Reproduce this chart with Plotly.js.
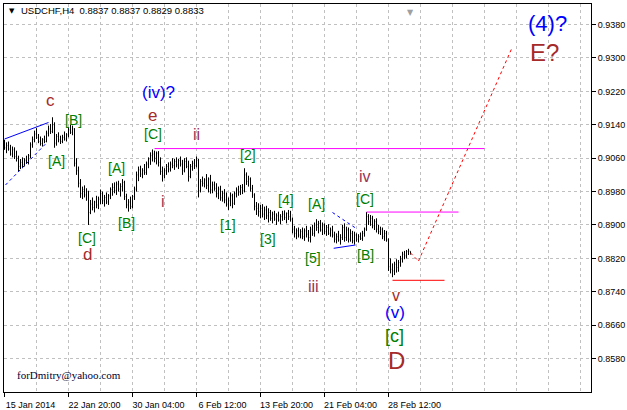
<!DOCTYPE html>
<html>
<head>
<meta charset="utf-8">
<script src="https://cdn.plot.ly/plotly-3.0.1.min.js"></script>
<style>html,body{margin:0;padding:0;background:#fff;}#chart{width:627px;height:410px;}</style>
</head>
<body>
<div id="chart"></div>
<script>
// ---- H4 bars USDCHF ----
const openP = [
.9095,.9085,.9090,.9082,.9070,.9080,.9064,.9060,.9040,.9050,
.9044,.9055,.9050,.9066,.9092,.9105,.9118,.9110,.9100,.9095,
.9104,.9100,.9120,.9130,.9124,.9140,.9096,.9112,.9104,.9100,
.9110,.9106,.9116,.9128,.9122,.9130,.9048,.9030,.9000,.8975,
.8985,.8972,.8980,.8930,.8950,.8942,.8955,.8948,.8962,.8975,
.8958,.8966,.8955,.8970,.8985,.8990,.8982,.8998,.8986,.8992,
.9002,.8968,.8948,.8955,.8944,.8968,.8986,.9020,.9032,.9022,
.9030,.9026,.9046,.9058,.9066,.9070,.9060,.9072,.9050,.9028,
.9018,.9030,.9040,.9034,.9046,.9042,.9052,.9044,.9054,.9046,
.9030,.9052,.9040,.9016,.9040,.9048,.9042,.9055,.8982,.9004,
.9000,.9008,.8995,.9010,.8984,.8996,.8988,.8975,.8986,.8965,
.8976,.8960,.8950,.8958,.8970,.8952,.8975,.8984,.8978,.8990,
.8982,.9020,.9004,.9010,.8988,.8972,.8945,.8940,.8932,.8940,
.8926,.8936,.8922,.8930,.8916,.8926,.8914,.8922,.8912,.8920,
.8926,.8918,.8928,.8920,.8914,.8890,.8880,.8886,.8876,.8884,
.8872,.8886,.8878,.8870,.8890,.8880,.8900,.8894,.8904,.8888,
.8898,.8884,.8894,.8880,.8888,.8876,.8866,.8872,.8864,.8870,
.8894,.8870,.8888,.8866,.8880,.8862,.8876,.8866,.8872,.8868,
.8880,.8890,.8920,.8908,.8916,.8898,.8908,.8890,.8884,.8890,
.8872,.8880,.8864,.8800,.8794,.8790,.8806,.8798,.8810,.8818,
.8830,.8826,.8836,.8837];
const highP = [
.9104,.9098,.9100,.9092,.9088,.9086,.9078,.9066,.9058,.9062,
.9060,.9066,.9070,.9098,.9112,.9126,.9132,.9118,.9112,.9108,
.9114,.9126,.9138,.9142,.9158,.9146,.9118,.9122,.9114,.9116,
.9124,.9120,.9134,.9140,.9138,.9132,.9060,.9040,.9010,.8992,
.8995,.8988,.8982,.8960,.8966,.8958,.8970,.8968,.8985,.8980,
.8972,.8978,.8974,.8990,.9000,.9002,.9004,.9006,.9000,.9010,
.9006,.8975,.8962,.8968,.8972,.8992,.9028,.9040,.9042,.9036,
.9046,.9052,.9062,.9074,.9081,.9078,.9076,.9077,.9062,.9040,
.9036,.9046,.9050,.9052,.9060,.9058,.9062,.9058,.9064,.9056,
.9060,.9062,.9054,.9046,.9054,.9058,.9064,.9058,.9010,.9016,
.9012,.9022,.9014,.9020,.9004,.9004,.9000,.8992,.8994,.8982,
.8986,.8978,.8966,.8978,.8975,.8980,.8990,.8994,.8996,.8998,
.9036,.9026,.9018,.9014,.8996,.8976,.8955,.8952,.8948,.8950,
.8944,.8946,.8940,.8936,.8932,.8934,.8928,.8932,.8926,.8934,
.8935,.8930,.8936,.8934,.8918,.8898,.8892,.8894,.8890,.8894,
.8892,.8898,.8888,.8896,.8900,.8906,.8914,.8910,.8912,.8906,
.8904,.8900,.8902,.8894,.8898,.8884,.8880,.8886,.8878,.8900,
.8904,.8896,.8894,.8890,.8886,.8884,.8880,.8878,.8882,.8886,
.8894,.8931,.8926,.8924,.8922,.8914,.8916,.8900,.8896,.8894,
.8888,.8886,.8868,.8820,.8808,.8812,.8818,.8816,.8826,.8836,
.8838,.8840,.8843,.8837];
const lowP = [
.9080,.9072,.9078,.9066,.9062,.9058,.9052,.9027,.9034,.9036,
.9040,.9046,.9045,.9060,.9085,.9098,.9106,.9096,.9090,.9088,
.9096,.9098,.9112,.9118,.9120,.9085,.9090,.9098,.9094,.9096,
.9102,.9100,.9110,.9118,.9115,.9040,.9020,.8990,.8965,.8962,
.8966,.8958,.8900,.8926,.8935,.8930,.8940,.8938,.8950,.8950,
.8944,.8950,.8948,.8962,.8970,.8976,.8972,.8980,.8968,.8980,
.8960,.8940,.8932,.8938,.8940,.8960,.8980,.9005,.9015,.9012,
.9020,.9020,.9036,.9044,.9052,.9050,.9045,.9040,.9020,.9004,
.9012,.9020,.9026,.9028,.9036,.9032,.9038,.9034,.9040,.9020,
.9026,.9036,.9004,.9012,.9030,.9034,.9038,.8966,.8978,.8992,
.8990,.8986,.8978,.8975,.8976,.8982,.8966,.8962,.8958,.8956,
.8952,.8944,.8936,.8945,.8940,.8948,.8966,.8970,.8972,.8974,
.8978,.8996,.8992,.8980,.8965,.8935,.8924,.8920,.8916,.8918,
.8912,.8914,.8906,.8910,.8904,.8910,.8900,.8908,.8902,.8910,
.8912,.8904,.8912,.8908,.8880,.8870,.8866,.8870,.8868,.8866,
.8862,.8870,.8860,.8858,.8874,.8872,.8886,.8880,.8884,.8876,
.8878,.8874,.8876,.8872,.8870,.8858,.8856,.8860,.8853,.8864,
.8860,.8862,.8858,.8860,.8856,.8853,.8860,.8858,.8864,.8862,
.8872,.8886,.8900,.8898,.8892,.8888,.8882,.8878,.8876,.8866,
.8862,.8860,.8790,.8784,.8775,.8780,.8786,.8788,.8800,.8810,
.8818,.8820,.8828,.8829];
const closeP = [
.9085,.9090,.9082,.9070,.9080,.9064,.9060,.9040,.9050,.9044,
.9055,.9050,.9066,.9092,.9105,.9118,.9110,.9100,.9095,.9104,
.9100,.9120,.9130,.9124,.9140,.9096,.9112,.9104,.9100,.9110,
.9106,.9116,.9128,.9122,.9130,.9048,.9030,.9000,.8975,.8985,
.8972,.8980,.8930,.8950,.8942,.8955,.8948,.8962,.8975,.8958,
.8966,.8955,.8970,.8985,.8990,.8982,.8998,.8986,.8992,.9002,
.8968,.8948,.8955,.8944,.8968,.8986,.9020,.9032,.9022,.9030,
.9026,.9046,.9058,.9066,.9070,.9060,.9072,.9050,.9028,.9018,
.9030,.9040,.9034,.9046,.9042,.9052,.9044,.9054,.9046,.9030,
.9052,.9040,.9016,.9040,.9048,.9042,.9055,.8982,.9004,.9000,
.9008,.8995,.9010,.8984,.8996,.8988,.8975,.8986,.8965,.8976,
.8960,.8950,.8958,.8970,.8952,.8975,.8984,.8978,.8990,.8982,
.9020,.9004,.9010,.8988,.8972,.8945,.8940,.8932,.8940,.8926,
.8936,.8922,.8930,.8916,.8926,.8914,.8922,.8912,.8920,.8926,
.8918,.8928,.8920,.8914,.8890,.8880,.8886,.8876,.8884,.8872,
.8886,.8878,.8870,.8890,.8880,.8900,.8894,.8904,.8888,.8898,
.8884,.8894,.8880,.8888,.8876,.8866,.8872,.8864,.8870,.8894,
.8870,.8888,.8866,.8880,.8862,.8876,.8866,.8872,.8868,.8880,
.8890,.8920,.8908,.8916,.8898,.8908,.8890,.8884,.8890,.8872,
.8880,.8864,.8800,.8794,.8790,.8806,.8798,.8810,.8818,.8830,
.8826,.8836,.8838,.8833];

const timeTickBars = [0, 32, 64, 96, 128, 160, 192];
const timeTickLabels = ["15 Jan 2014", "22 Jan 20:00", "30 Jan 04:00", "6 Feb 12:00", "13 Feb 20:00", "21 Feb 04:00", "28 Feb 12:00"];
const priceTicks = [0.8580, 0.8660, 0.8740, 0.8820, 0.8900, 0.8980, 0.9060, 0.9140, 0.9220, 0.9300, 0.9380];
const headerText = "USDCHF,H4  0.8837 0.8837 0.8829 0.8833";

// analyst drawings: [bar, price] endpoints
const wedgeUpper = [[0, 0.91059], [22, 0.91455]];
const wedgeLower = [[0.5, 0.89958], [21, 0.90964]];
const triUpper = [[164, 0.89299], [175.5, 0.88928]];
const triLower = [[164.6, 0.88442], [175.5, 0.88521]];
const levelHigh = [[75, 0.9083], [240, 0.9083]];
const levelMid = [[181, 0.8931], [227, 0.8931]];
const levelLow = [[194, 0.87675], [220, 0.87675]];
const projection = [[203, 0.88329], [207, 0.88137], [253.5, 0.93215]];

// wave labels: text, bar, price, colour, size
const GREEN = '#008000', BROWN = '#A52A2A', ROMAN = '#993355', BLUE = '#0000FF';
const waveLabels = [
  ['c', 23, 0.9197, BROWN, 17],
  ['(iv)?', 77, 0.92185, BLUE, 17],
  ['e', 74, 0.91634, BROWN, 17],
  ['[B]', 34.25, 0.91503, GREEN, 14],
  ['[A]', 26, 0.90533, GREEN, 14],
  ['[C]', 74, 0.91179, GREEN, 14],
  ['ii', 96, 0.91179, ROMAN, 16],
  ['[A]', 56, 0.90365, GREEN, 14],
  ['[B]', 61, 0.89047, GREEN, 14],
  ['[C]', 41, 0.88688, GREEN, 14],
  ['d', 41.5, 0.88305, BROWN, 17],
  ['i', 79, 0.89574, ROMAN, 16],
  ['[1]', 111.5, 0.8900, GREEN, 14],
  ['[2]', 121.5, 0.90676, GREEN, 14],
  ['[3]', 131.5, 0.88664, GREEN, 14],
  ['[4]', 140.5, 0.89598, GREEN, 14],
  ['[A]', 156, 0.89503, GREEN, 14],
  ['iv', 180, 0.90173, ROMAN, 16],
  ['[C]', 180, 0.89622, GREEN, 14],
  ['[5]', 154, 0.88209, GREEN, 14],
  ['[B]', 180.5, 0.88281, GREEN, 14],
  ['iii', 154.5, 0.87515, ROMAN, 16],
  ['v', 195.5, 0.87323, BROWN, 16],
  ['(v)', 195, 0.86916, BLUE, 17],
  ['[c]', 195, 0.86341, GREEN, 18],
  ['D', 196, 0.85766, BROWN, 24],
  ['(4)?', 271.5, 0.93838, BLUE, 22],
  ['E?', 270, 0.93143, BROWN, 24]
];

const barIdx = openP.map((_, i) => i);

const trace = {
  type: 'ohlc',
  x: barIdx, open: openP, high: highP, low: lowP, close: closeP,
  increasing: {line: {color: '#000000', width: 1}},
  decreasing: {line: {color: '#000000', width: 1}},
  tickwidth: 0.3,
  hoverinfo: 'skip',
  showlegend: false
};

function seg(pts, color, dash, width) {
  const out = [];
  for (let k = 0; k < pts.length - 1; k++) {
    out.push({type: 'line', xref: 'x', yref: 'y',
      x0: pts[k][0], y0: pts[k][1], x1: pts[k+1][0], y1: pts[k+1][1],
      line: {color: color, width: width || 1, dash: dash || 'solid'}});
  }
  return out;
}
const shapes = [].concat(
  seg(wedgeUpper, '#0000FF', 'solid'),
  seg(wedgeLower, '#0000FF', 'dot'),
  seg(triUpper, '#0000FF', 'dot'),
  seg(triLower, '#0000FF', 'solid'),
  seg(levelHigh, '#FF00FF', 'solid'),
  seg(levelMid, '#FF00FF', 'solid'),
  seg(levelLow, '#FF0000', 'solid'),
  seg(projection, '#FF0000', 'dot')
);

const annotations = waveLabels.map(w => ({
  text: w[0], x: w[1], y: w[2], xref: 'x', yref: 'y', showarrow: false,
  font: {family: 'Liberation Sans, Arial, sans-serif', size: w[4], color: w[3]}
}));
annotations.push({text: '▼', xref: 'paper', yref: 'paper', x: 0.0128, y: 0.982,
  xanchor: 'center', yanchor: 'middle', showarrow: false,
  font: {family: 'DejaVu Sans', size: 7, color: '#000'}});
annotations.push({text: headerText, xref: 'paper', yref: 'paper', x: 0.0255, y: 0.982,
  xanchor: 'left', yanchor: 'middle', showarrow: false,
  font: {family: 'Liberation Sans, Arial, sans-serif', size: 9.5, color: '#000'}});
annotations.push({text: 'forDmitry@yahoo.com', xref: 'x', yref: 'y', x: 32, y: 0.85407,
  showarrow: false, font: {family: 'Liberation Serif, Times New Roman, serif', size: 11, color: '#000033'}});
annotations.push({text: '▼', xref: 'x', yref: 'paper', x: 203, y: 0.995, yanchor: 'top',
  showarrow: false, font: {family: 'DejaVu Sans', size: 8, color: '#a0a0a0'}});

const GRID = '#c0c0c0';
const layout = {
  width: 627, height: 410,
  margin: {l: 4, r: 36, t: 4, b: 18, pad: 0},
  paper_bgcolor: '#ffffff', plot_bgcolor: '#ffffff',
  showlegend: false,
  font: {family: 'Liberation Sans, Arial, sans-serif', size: 9, color: '#000'},
  xaxis: {
    range: [-0.25, 293.25], fixedrange: true,
    rangeslider: {visible: false},
    tickmode: 'array', tickvals: timeTickBars, ticktext: timeTickLabels,
    ticks: 'outside', ticklen: 4, tickcolor: '#000', tickwidth: 1,
    ticklabelshift: 26,
    showgrid: true, gridcolor: GRID, griddash: '3px,3px', gridwidth: 1,
    minor: {tickmode: 'linear', tick0: 0, dtick: 16, showgrid: true, gridcolor: GRID, griddash: '3px,3px', gridwidth: 1, ticks: ''},
    showline: true, linecolor: '#000', linewidth: 1, mirror: true,
    zeroline: false,
    tickfont: {family: 'Liberation Sans, Arial, sans-serif', size: 9, color: '#000'}
  },
  yaxis: {
    side: 'right', range: [0.8500, 0.94293], fixedrange: true,
    tickmode: 'array', tickvals: priceTicks, ticktext: priceTicks.map(v => v.toFixed(4)),
    ticks: 'outside', ticklen: 4, tickcolor: '#000', tickwidth: 1,
    showgrid: true, gridcolor: GRID, griddash: '3px,3px', gridwidth: 1,
    showline: true, linecolor: '#000', linewidth: 1, mirror: true,
    zeroline: false,
    tickfont: {family: 'Liberation Sans, Arial, sans-serif', size: 9, color: '#000'}
  },
  shapes: shapes,
  annotations: annotations
};

Plotly.newPlot('chart', [trace], layout, {staticPlot: true, displayModeBar: false});
</script>
</body>
</html>
